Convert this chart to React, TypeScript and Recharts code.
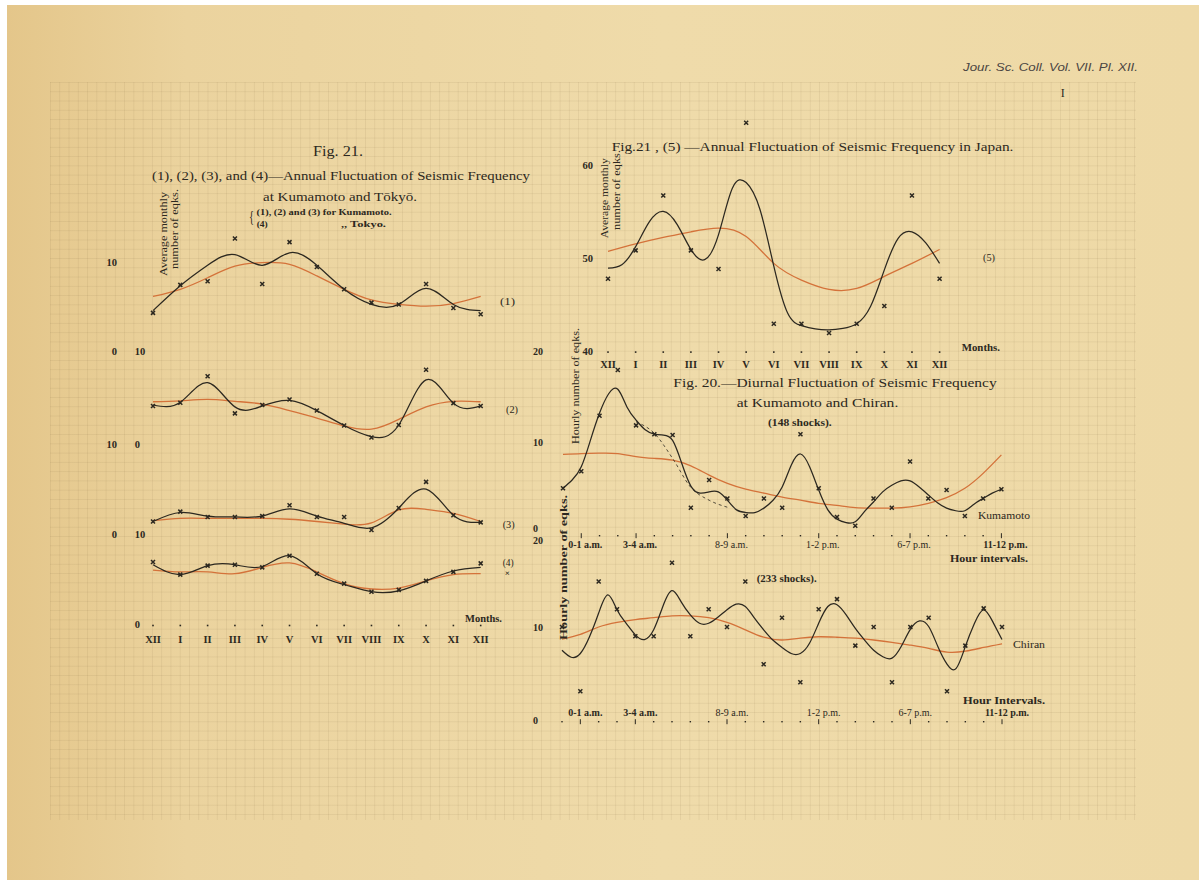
import React from "react";
import { LineChart, Line, XAxis, YAxis } from "recharts";

// ---- categories ----
const months = ["XII", "I", "II", "III", "IV", "V", "VI", "VII", "VIII", "IX", "X", "XI", "XII"];
const hourLabels = [
  "11-12 p.m.", "0-1 a.m.", "1-2 a.m.", "2-3 a.m.", "3-4 a.m.", "4-5 a.m.", "5-6 a.m.", "6-7 a.m.",
  "7-8 a.m.", "8-9 a.m.", "9-10 a.m.", "10-11 a.m.", "11-12 a.m.", "0-1 p.m.", "1-2 p.m.", "2-3 p.m.",
  "3-4 p.m.", "4-5 p.m.", "5-6 p.m.", "6-7 p.m.", "7-8 p.m.", "8-9 p.m.", "9-10 p.m.", "10-11 p.m.", "11-12 p.m.",
];
const labelledHours = [1, 4, 9, 14, 19, 24];
const boldHours = [1, 4, 24];

// ---- Fig. 21 (1)-(4): monthly, Kumamoto & Tokyo ----
const kum1Obs = [4.35, 7.5, 7.9, 12.7, 7.6, 12.3, 9.5, 7.0, 5.5, 5.3, 7.6, 4.9, 4.2];
const kum1Curve = [4.6, 7.4, 9.7, 10.9, 9.7, 11.1, 9.7, 7.0, 5.3, 5.3, 7.1, 5.3, 4.6];
const kum1Mean = [6.2, 7.0, 8.3, 9.6, 10.0, 9.8, 8.5, 7.0, 5.8, 5.3, 5.1, 5.4, 6.2];

const kum2Obs = [4.2, 4.55, 7.4, 3.4, 4.3, 4.9, 3.7, 2.1, 0.8, 2.15, 8.1, 4.5, 4.2];
const kum2Curve = [4.3, 4.6, 6.7, 4.1, 4.2, 4.8, 3.7, 2.1, 0.9, 2.15, 7.0, 4.5, 4.2];
const kum2Mean = [4.65, 4.75, 4.9, 4.7, 4.4, 3.7, 2.9, 2.05, 1.7, 2.75, 4.1, 4.7, 4.65];

const kum3Obs = [1.5, 2.6, 2.0, 2.0, 2.1, 3.3, 2.0, 2.0, 0.55, 3.0, 5.9, 2.2, 1.4];
const kum3Curve = [1.5, 2.5, 2.1, 2.0, 2.1, 2.9, 2.1, 1.3, 0.8, 3.0, 5.1, 2.2, 1.4];
const kum3Mean = [1.6, 1.85, 1.85, 1.85, 1.85, 1.75, 1.5, 1.2, 1.35, 2.8, 2.85, 2.4, 1.5];

const tokyoObs = [7.0, 5.6, 6.6, 6.7, 6.4, 7.7, 5.7, 4.6, 3.7, 3.9, 4.9, 5.9, 6.85];
const tokyoCurve = [6.7, 5.6, 6.6, 6.7, 6.5, 7.7, 5.7, 4.5, 3.7, 3.8, 4.9, 6.0, 6.4];
const tokyoMean = [6.1, 5.9, 5.9, 5.7, 6.4, 6.9, 5.9, 4.6, 4.0, 4.1, 4.9, 5.6, 5.7];

// ---- Fig. 21 (5): Japan, monthly (curve read every half month) ----
const japanObs = [47.85, 50.9, 56.8, 50.9, 48.9, 64.65, 43.0, 43.0, 42.0, 43.0, 44.9, 56.8, 47.85];
const japanCurve = [
  49.0, 49.35, 51.3, 54.0, 55.1, 53.7, 51.0, 49.9, 52.6, 57.6, 58.2, 55.3, 49.2,
  44.15, 42.8, 42.45, 42.35, 42.5, 43.0, 44.85, 48.8, 52.2, 52.9, 51.7, 49.5,
];
const japanMean = [50.8, 51.6, 52.3, 52.9, 53.3, 52.4, 49.5, 47.7, 46.7, 46.8, 48.1, 49.5, 51.0];

// ---- Fig. 20: diurnal, Kumamoto & Chiran (curves read every half hour) ----
const kumHourObs = [4.85, 6.8, 13.1, 18.3, 12.0, 11.0, 10.9, 2.65, 5.8, 3.7, 1.7, 3.7, 2.65, 11.0, 4.85, 1.6, 0.6, 3.7, 2.65, 7.9, 3.7, 4.65, 1.7, 3.7, 4.75];
const kumHourCurve = [
  4.85, 5.8, 7.3, 10.3, 13.4, 15.6, 16.1, 14.1, 12.6, 11.5, 11.0, 10.9, 10.3, 7.7, 5.1, 4.3, 4.45,
  4.45, 3.5, 2.4, 2.1, 2.1, 2.6, 3.5, 5.0, 7.5, 8.75, 7.3, 4.65, 2.4, 1.35, 0.95, 1.05, 2.2, 3.3,
  4.45, 5.2, 5.7, 5.7, 5.0, 4.1, 3.2, 2.6, 2.3, 2.3, 3.05, 3.7, 4.3, 4.75,
];
const kumHourDashed = [12.4, 11.1, 8.25, 4.95, 3.5, 2.7]; // hours 4 .. 9
const kumHourMean = [8.7, 8.8, 8.85, 8.8, 8.45, 8.25, 8.05, 7.4, 6.35, 5.4, 4.75, 4.3, 3.85, 3.5, 3.15, 2.9, 2.65, 2.6, 2.6, 2.75, 3.15, 3.8, 4.85, 6.55, 8.65];

const chiranObs = [10.0, 3.1, 14.9, 11.9, 9.0, 9.0, 16.9, 9.0, 11.9, 10.0, 14.9, 6.0, 11.0, 4.05, 11.9, 13.0, 8.0, 10.0, 4.05, 10.0, 11.0, 3.1, 8.0, 12.0, 10.0];
const chiranCurve = [
  7.5, 6.75, 7.15, 8.95, 11.5, 13.45, 11.85, 10.4, 9.15, 8.65, 9.7, 12.2, 13.9, 12.7, 11.3, 10.4, 10.4,
  11.05, 11.85, 12.45, 12.2, 10.95, 9.7, 8.6, 7.8, 7.15, 7.15, 8.25, 10.4, 12.2, 12.4, 11.3, 9.85,
  8.6, 7.5, 6.8, 6.65, 7.9, 9.75, 10.65, 10.05, 7.9, 6.0, 5.55, 7.9, 10.4, 11.85, 10.55, 8.65,
];
const chiranMean = [8.7, 9.2, 10.0, 10.5, 10.8, 11.0, 11.2, 11.2, 11.0, 10.5, 9.7, 8.9, 8.6, 8.8, 8.95, 8.9, 8.8, 8.6, 8.35, 8.05, 7.7, 7.3, 7.4, 7.8, 8.2];

// ---- styling ----
const INK = "#2c2820";
const RED = "#d4723a";
const SERIF = '"Liberation Serif", "Times New Roman", serif';
const SANS = '"Liberation Sans", Arial, sans-serif';

type Pt = { x: number; v: number };
const pts = (vals: number[], step = 1, start = 0): Pt[] => vals.map((v, i) => ({ x: start + i * step, v }));

const Cross = (props: any) => {
  const { cx, cy, index } = props;
  if (cx == null || cy == null) return <g key={`c${index}`} />;
  const s = 2;
  return (
    <path
      key={`c${index}`}
      d={`M${cx - s},${cy - s}L${cx + s},${cy + s}M${cx - s},${cy + s}L${cx + s},${cy - s}`}
      stroke={INK}
      strokeWidth={1.5}
    />
  );
};

// nudge moves a tick label up/down when two stacked axes print on top of each other
const yTick = (anchor: "start" | "end", dx: number, size = 10.5, nudge: Record<number, number> = {}) => (p: any) => (
  <text
    x={p.x - dx}
    y={p.y + (nudge[p.payload.value] ?? 0)}
    textAnchor={anchor}
    dominantBaseline="central"
    fontSize={size}
    fontWeight="bold"
    fill={INK}
    fontFamily={SERIF}
  >
    {p.payload.value}
  </text>
);

const monthTick = (labelDy: number) => (p: any) => {
  const i = Math.round(p.payload.value);
  return (
    <g>
      <rect x={p.x - 0.8} y={p.y - 0.3} width={1.6} height={1.6} fill={INK} />
      <text x={p.x} y={p.y + labelDy} textAnchor="middle" dominantBaseline="central" fontSize={10.5} fontWeight="bold" fill={INK} fontFamily={SERIF}>
        {months[i]}
      </text>
    </g>
  );
};

const hourTick = (dotDy: number, labelDy: number, dx: number) => (p: any) => {
  const i = Math.round(p.payload.value);
  const lab = labelledHours.includes(i);
  return (
    <g>
      {lab ? (
        <line x1={p.x} x2={p.x} y1={p.y + dotDy - 2.5} y2={p.y + dotDy + 2.5} stroke={INK} strokeWidth={1} />
      ) : (
        <rect x={p.x - 0.7} y={p.y + dotDy - 0.7} width={1.4} height={1.4} fill={INK} />
      )}
      {lab && (
        <text x={p.x + dx} y={p.y + labelDy} textAnchor="middle" dominantBaseline="central" fontSize={10} fontWeight={boldHours.includes(i) ? "bold" : "normal"} fill={INK} fontFamily={SERIF}>
          {hourLabels[i]}
        </text>
      )}
    </g>
  );
};

type Layer = { data: Pt[]; kind: "obs" | "black" | "orange" | "dash" };
type PanelProps = {
  plot: { left: number; top: number; width: number; height: number };
  xMax: number;
  yDomain: [number, number];
  yTicks: number[];
  yTickFn: (p: any) => React.ReactElement;
  xTickFn?: (p: any) => React.ReactElement;
  layers: Layer[];
};

const AW = 60;
const PAD = 14;
const RPAD = 40;
const AH = 30;

function Panel({ plot, xMax, yDomain, yTicks, yTickFn, xTickFn, layers }: PanelProps) {
  const showX = !!xTickFn;
  const width = AW + plot.width + RPAD;
  const height = PAD + plot.height + (showX ? AH : PAD);
  const xTicks = Array.from({ length: xMax + 1 }, (_, i) => i);
  return (
    <div style={{ position: "absolute", left: plot.left - AW, top: plot.top - PAD, width, height }}>
      <LineChart width={width} height={height} margin={{ top: PAD, right: RPAD, left: 0, bottom: showX ? 0 : PAD }}>
        <XAxis
          type="number"
          dataKey="x"
          domain={[0, xMax]}
          hide={!showX}
          height={AH}
          ticks={xTicks}
          interval={0}
          tick={xTickFn}
          tickLine={false}
          axisLine={false}
          tickSize={0}
          tickMargin={0}
        />
        <YAxis
          type="number"
          domain={yDomain}
          ticks={yTicks}
          width={AW}
          interval={0}
          tick={yTickFn}
          tickLine={false}
          axisLine={false}
          tickSize={0}
          tickMargin={0}
        />
        {layers.map((l, k) => {
          if (l.kind === "obs")
            return <Line key={k} data={l.data} dataKey="v" stroke="none" dot={Cross} activeDot={false} isAnimationActive={false} />;
          if (l.kind === "dash")
            return <Line key={k} data={l.data} dataKey="v" type="monotone" stroke={INK} strokeWidth={0.8} strokeDasharray="3 3" dot={false} activeDot={false} isAnimationActive={false} />;
          return (
            <Line
              key={k}
              data={l.data}
              dataKey="v"
              type="natural"
              stroke={l.kind === "orange" ? RED : INK}
              strokeWidth={l.kind === "orange" ? 1.3 : 1.25}
              dot={false}
              activeDot={false}
              isAnimationActive={false}
            />
          );
        })}
      </LineChart>
    </div>
  );
}

type Note = { t: string; x: number; y: number; size: number; w?: number; anchor?: "start" | "middle" | "end"; bold?: boolean; italic?: boolean; sans?: boolean; rot?: boolean; fill?: string };

const notes: Note[] = [
  { t: "Jour. Sc. Coll. Vol. VII. Pl. XII.", x: 963, y: 66.7, size: 11.5, w: 175, italic: true, sans: true, fill: "#4a4542" },
  { t: "I", x: 1062.7, y: 92.7, size: 12, anchor: "middle" },
  { t: "Fig. 21.", x: 313, y: 151.7, size: 14, w: 50 },
  { t: "(1), (2), (3), and (4)\u2014Annual Fluctuation of Seismic Frequency", x: 152, y: 175.7, size: 13.5, w: 378 },
  { t: "at Kumamoto and T\u014dky\u014d.", x: 263, y: 196, size: 13.5, w: 154 },
  { t: "{", x: 249, y: 217.5, size: 17, w: 5 },
  { t: "(1), (2) and (3)  for Kumamoto.", x: 256.5, y: 212.3, size: 9, w: 135, bold: true },
  { t: "(4)", x: 256.7, y: 223.8, size: 9, w: 11, bold: true },
  { t: ",,  Tokyo.", x: 341, y: 223.8, size: 9, w: 45, bold: true },
  { t: "Average monthly", x: 163.3, y: 234, size: 10.5, w: 84, rot: true },
  { t: "number of eqks.", x: 174.3, y: 229, size: 10.5, w: 80, rot: true },
  { t: "(1)", x: 500, y: 301.7, size: 10.5, w: 15 },
  { t: "(2)", x: 506, y: 409, size: 10.5, w: 12 },
  { t: "(3)", x: 502.7, y: 524, size: 10.5, w: 12 },
  { t: "(4)", x: 502.7, y: 562.7, size: 10.5, w: 11 },
  { t: "\u00d7", x: 507.3, y: 573.3, size: 9, anchor: "middle", bold: true },
  { t: "Months.", x: 465, y: 618.3, size: 10, w: 37, bold: true },
  { t: "Fig.21 , (5) \u2014Annual Fluctuation of Seismic Frequency in Japan.", x: 611.7, y: 146.7, size: 13.5, w: 401.7 },
  { t: "Average monthly", x: 605, y: 198.3, size: 10.5, w: 80, rot: true },
  { t: "number of eqks.", x: 616.5, y: 190, size: 10.5, w: 80, rot: true },
  { t: "(5)", x: 983, y: 257.3, size: 10.5, w: 12 },
  { t: "Months.", x: 961.7, y: 347.3, size: 10, w: 38.3, bold: true },
  { t: "Fig. 20.\u2014Diurnal Fluctuation of Seismic Frequency", x: 673.3, y: 382.7, size: 13.5, w: 323.4 },
  { t: "at Kumamoto and Chiran.", x: 736.7, y: 402.7, size: 13.5, w: 161.6 },
  { t: "(148 shocks).", x: 768, y: 422.7, size: 9.5, w: 63.7, bold: true },
  { t: "Hourly number of eqks.", x: 575.5, y: 386, size: 10.5, w: 116, rot: true },
  { t: "Kumamoto", x: 978, y: 515, size: 10, w: 52 },
  { t: "Hour intervals.", x: 950, y: 558, size: 10, w: 78, bold: true },
  { t: "(233 shocks).", x: 756.7, y: 578.3, size: 10, w: 60, bold: true },
  { t: "Hourly number of eqks.", x: 562.5, y: 567.5, size: 11, w: 145, rot: true, bold: true },
  { t: "Chiran", x: 1013, y: 644, size: 10, w: 32 },
  { t: "Hour  Intervals.", x: 963, y: 700, size: 10, w: 82, bold: true },
];

export default function App() {
  const monthsX = 12;
  const hoursX = 24;
  return (
    <div style={{ position: "absolute", left: 0, top: 0, width: 1199, height: 880, overflow: "hidden", background: "#ffffff" }}>
      <div
        style={{
          position: "absolute",
          left: 7,
          top: 5,
          width: 1192,
          height: 875,
          background: "linear-gradient(90deg, #e4c68a 0%, #ebd39e 15%, #efdbaa 55%, #eed9a6 100%)",
        }}
      />
      <div
        style={{
          position: "absolute",
          left: 50,
          top: 82,
          width: 1086,
          height: 738,
          backgroundImage:
            "linear-gradient(to right, rgba(125,100,60,0.1) 1px, transparent 1px), linear-gradient(to bottom, rgba(125,100,60,0.1) 1px, transparent 1px)",
          backgroundSize: "9.27px 9.27px",
        }}
      />

      {/* Fig. 21 (1) */}
      <Panel
        plot={{ left: 153.3, top: 227.4, width: 327.7, height: 124.6 }}
        xMax={monthsX}
        yDomain={[0, 14]}
        yTicks={[0, 10]}
        yTickFn={yTick("end", 36)}
        layers={[
          { data: pts(kum1Mean), kind: "orange" },
          { data: pts(kum1Curve), kind: "black" },
          { data: pts(kum1Obs), kind: "obs" },
        ]}
      />
      {/* (2) */}
      <Panel
        plot={{ left: 153.3, top: 352, width: 327.7, height: 93 }}
        xMax={monthsX}
        yDomain={[0, 10]}
        yTicks={[0, 10]}
        yTickFn={yTick("start", 18.3)}
        layers={[
          { data: pts(kum2Mean), kind: "orange" },
          { data: pts(kum2Curve), kind: "black" },
          { data: pts(kum2Obs), kind: "obs" },
        ]}
      />
      {/* (3) */}
      <Panel
        plot={{ left: 153.3, top: 445, width: 327.7, height: 90 }}
        xMax={monthsX}
        yDomain={[0, 10]}
        yTicks={[0, 10]}
        yTickFn={yTick("end", 36)}
        layers={[
          { data: pts(kum3Mean), kind: "orange" },
          { data: pts(kum3Curve), kind: "black" },
          { data: pts(kum3Obs), kind: "obs" },
        ]}
      />
      {/* (4) Tokyo */}
      <Panel
        plot={{ left: 153.3, top: 535, width: 327.7, height: 90 }}
        xMax={monthsX}
        yDomain={[0, 10]}
        yTicks={[0, 10]}
        yTickFn={yTick("start", 18.3)}
        xTickFn={monthTick(15)}
        layers={[
          { data: pts(tokyoMean), kind: "orange" },
          { data: pts(tokyoCurve), kind: "black" },
          { data: pts(tokyoObs), kind: "obs" },
        ]}
      />
      {/* (5) Japan */}
      <Panel
        plot={{ left: 607.7, top: 73.1, width: 331.6, height: 278.6 }}
        xMax={monthsX}
        yDomain={[40, 70]}
        yTicks={[40, 50, 60]}
        yTickFn={yTick("end", 15)}
        xTickFn={monthTick(13.3)}
        layers={[
          { data: pts(japanMean), kind: "orange" },
          { data: pts(japanCurve, 0.5), kind: "black" },
          { data: pts(japanObs), kind: "obs" },
        ]}
      />
      {/* Fig. 20 Kumamoto */}
      <Panel
        plot={{ left: 563.3, top: 355, width: 438.4, height: 176 }}
        xMax={hoursX}
        yDomain={[0, 20]}
        yTicks={[0, 10, 20]}
        yTickFn={yTick("start", 30, 10, { 0: -2, 20: -3 })}
        xTickFn={hourTick(4.7, 14, 4)}
        layers={[
          { data: pts(kumHourMean), kind: "orange" },
          { data: pts(kumHourCurve, 0.5), kind: "black" },
          { data: pts(kumHourDashed, 1, 4), kind: "dash" },
          { data: pts(kumHourObs), kind: "obs" },
        ]}
      />
      {/* Fig. 20 Chiran */}
      <Panel
        plot={{ left: 561.7, top: 534, width: 440, height: 186 }}
        xMax={hoursX}
        yDomain={[0, 20]}
        yTicks={[0, 10, 20]}
        yTickFn={yTick("start", 29, 10, { 20: 6 })}
        xTickFn={hourTick(1.7, -7.3, 5)}
        layers={[
          { data: pts(chiranMean), kind: "orange" },
          { data: pts(chiranCurve, 0.5), kind: "black" },
          { data: pts(chiranObs), kind: "obs" },
        ]}
      />

      <svg width={1199} height={880} style={{ position: "absolute", left: 0, top: 0, pointerEvents: "none" }}>
        {notes.map((n, i) => (
          <text
            key={i}
            x={n.x}
            y={n.y}
            transform={n.rot ? `rotate(-90 ${n.x} ${n.y})` : undefined}
            textAnchor={n.rot ? "middle" : n.anchor ?? "start"}
            dominantBaseline="central"
            fontSize={n.size}
            fontWeight={n.bold ? "bold" : "normal"}
            fontStyle={n.italic ? "italic" : "normal"}
            fontFamily={n.sans ? SANS : SERIF}
            fill={n.fill ?? INK}
            textLength={n.w}
            lengthAdjust={n.w ? "spacingAndGlyphs" : undefined}
          >
            {n.t}
          </text>
        ))}
      </svg>
    </div>
  );
}
